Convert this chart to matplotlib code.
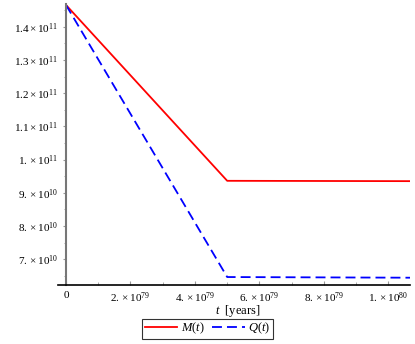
import matplotlib
matplotlib.use("Agg")
import matplotlib.pyplot as plt
import numpy as np

# time in years, masses
t_vals = [0.0, 5.0e79, 1.067e80]
M_vals = [1.466e11, 9.36e10, 9.35e10]
Q_vals = [1.466e11, 6.46e10, 6.44e10]

x_ticks = [0, 2e79, 4e79, 6e79, 8e79, 1e80]
x_labels = ["0", r"$2.\times10^{79}$", r"$4.\times10^{79}$", r"$6.\times10^{79}$",
            r"$8.\times10^{79}$", r"$1.\times10^{80}$"]
y_ticks = [7e10, 8e10, 9e10, 1e11, 1.1e11, 1.2e11, 1.3e11, 1.4e11]
y_labels = [r"$7.\times10^{10}$", r"$8.\times10^{10}$", r"$9.\times10^{10}$",
            r"$1.\times10^{11}$", r"$1.1\times10^{11}$", r"$1.2\times10^{11}$",
            r"$1.3\times10^{11}$", r"$1.4\times10^{11}$"]

plt.rcParams['font.family'] = ['Liberation Serif', 'DejaVu Serif']
plt.rcParams['mathtext.fontset'] = 'custom'
plt.rcParams['mathtext.rm'] = 'Liberation Serif'
plt.rcParams['mathtext.it'] = 'Liberation Serif:italic'

fig = plt.figure(figsize=(4.15, 3.44), dpi=100)
ax = fig.add_axes([0.159, 0.1715, 0.829, 0.817])

ax.plot(t_vals, M_vals, color='red', lw=1.3, label=r"$M(t)$")
ax.plot(t_vals, Q_vals, color='blue', lw=1.3, ls=(0, (5.5, 2.8)), label=r"$Q(t)$")

ax.set_xlim(0, 1.067e80)
ax.set_ylim(6.22e10, 1.469e11)

ax.set_xticks(x_ticks)
ax.set_xticklabels(x_labels, fontsize=8)
ax.set_yticks(y_ticks)
ax.set_yticklabels(y_labels, fontsize=8)
ax.set_xticks(np.arange(1e79, 1.07e80, 2e79), minor=True)
ax.set_yticks(np.arange(6.5e10, 1.47e11, 1e10), minor=True)

ax.spines['top'].set_visible(False)
ax.spines['right'].set_visible(False)
ax.spines['left'].set_color('#777777')
ax.spines['left'].set_linewidth(1.5)
ax.spines['bottom'].set_linewidth(1.2)
ax.spines['bottom'].set_bounds(-2.5e78, 1.067e80)
ax.tick_params(axis='x', direction='in', length=3, color='#999999', pad=4)
ax.tick_params(axis='x', which='minor', direction='in', length=2, color='#999999')
ax.tick_params(axis='y', direction='out', length=2, color='#999999', pad=4)
ax.tick_params(axis='y', which='minor', direction='out', length=1.5, color='#999999')

ax.set_xlabel(r"$t$  [years]", fontsize=9, labelpad=-1.5)

leg = fig.legend(loc='upper center', bbox_to_anchor=(0.5, 0.074), ncol=2, fontsize=9,
                 frameon=True, fancybox=False, edgecolor='black', borderpad=0.2,
                 handlelength=2.6, columnspacing=0.6, handletextpad=0.3,
                 borderaxespad=0.0)
leg.get_frame().set_linewidth(0.8)

fig.savefig("out.png", dpi=100)
